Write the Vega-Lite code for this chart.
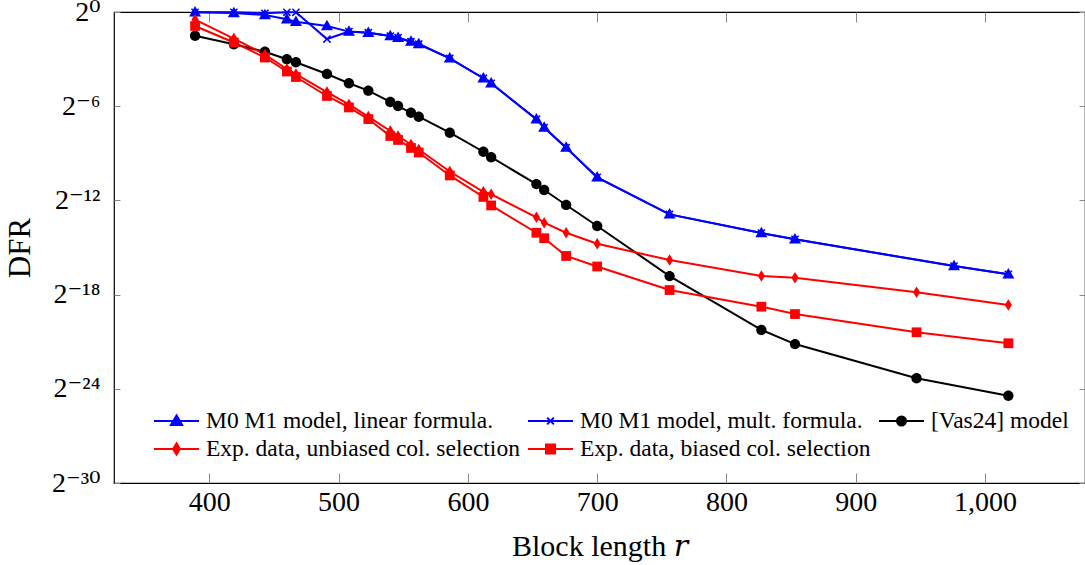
{
  "$schema": "https://vega.github.io/schema/vega-lite/v6.json",
  "autosize": "none",
  "width": 971,
  "height": 471,
  "padding": {"left": 114, "top": 12, "right": 0, "bottom": 82},
  "background": "white",
  "config": {
    "font": "Liberation Serif, DejaVu Serif",
    "view": {"stroke": "#000000", "strokeWidth": 1.2},
    "axis": {"grid": false, "domain": false, "tickColor": "#888888", "tickWidth": 1, "labelColor": "#000000", "titleColor": "#000000", "titleFontWeight": "normal", "labelFont": "Liberation Serif, DejaVu Serif", "titleFont": "Liberation Serif, DejaVu Serif"}
  },
  "data": {
    "values": [
      {"r": 389, "linear": -0.02, "mult": -0.02, "vas24": -1.51, "unbiased": -0.48, "biased": -0.89},
      {"r": 419, "linear": -0.06, "mult": -0.02, "vas24": -2.06, "unbiased": -1.69, "biased": -1.94},
      {"r": 443, "linear": -0.19, "mult": -0.08, "vas24": -2.53, "unbiased": -2.71, "biased": -2.9},
      {"r": 460, "linear": -0.46, "mult": -0.02, "vas24": -3.01, "unbiased": -3.63, "biased": -3.79},
      {"r": 467, "linear": -0.62, "mult": -0.02, "vas24": -3.2, "unbiased": -3.95, "biased": -4.14},
      {"r": 491, "linear": -0.89, "mult": -1.72, "vas24": -3.95, "unbiased": -5.1, "biased": -5.35},
      {"r": 508, "linear": -1.25, "mult": -1.25, "vas24": -4.54, "unbiased": -5.89, "biased": -6.08},
      {"r": 523, "linear": -1.32, "mult": -1.32, "vas24": -5.01, "unbiased": -6.66, "biased": -6.82},
      {"r": 540, "linear": -1.53, "mult": -1.53, "vas24": -5.73, "unbiased": -7.58, "biased": -7.9},
      {"r": 546, "linear": -1.64, "mult": -1.64, "vas24": -5.99, "unbiased": -7.9, "biased": -8.15},
      {"r": 556, "linear": -1.89, "mult": -1.89, "vas24": -6.42, "unbiased": -8.44, "biased": -8.66},
      {"r": 562, "linear": -2.04, "mult": -2.04, "vas24": -6.67, "unbiased": -8.76, "biased": -8.95},
      {"r": 586, "linear": -2.95, "mult": -2.95, "vas24": -7.69, "unbiased": -10.16, "biased": -10.41},
      {"r": 612, "linear": -4.22, "mult": -4.22, "vas24": -8.9, "unbiased": -11.45, "biased": -11.78},
      {"r": 618, "linear": -4.54, "mult": -4.54, "vas24": -9.25, "unbiased": -11.61, "biased": -12.32},
      {"r": 653, "linear": -6.83, "mult": -6.83, "vas24": -10.96, "unbiased": -13.08, "biased": -14.06},
      {"r": 659, "linear": -7.36, "mult": -7.36, "vas24": -11.34, "unbiased": -13.42, "biased": -14.41},
      {"r": 676, "linear": -8.64, "mult": -8.64, "vas24": -12.29, "unbiased": -14.06, "biased": -15.54},
      {"r": 700, "linear": -10.53, "mult": -10.53, "vas24": -13.63, "unbiased": -14.76, "biased": -16.21},
      {"r": 756, "linear": -12.89, "mult": -12.89, "vas24": -16.82, "unbiased": -15.8, "biased": -17.71},
      {"r": 827, "linear": -14.08, "mult": -14.08, "vas24": -20.25, "unbiased": -16.82, "biased": -18.77},
      {"r": 853, "linear": -14.48, "mult": -14.48, "vas24": -21.15, "unbiased": -16.92, "biased": -19.24},
      {"r": 947, "linear": null, "mult": null, "vas24": -23.33, "unbiased": -17.85, "biased": -20.4},
      {"r": 976, "linear": -16.18, "mult": -16.18, "vas24": null, "unbiased": null, "biased": null},
      {"r": 1018, "linear": -16.71, "mult": -16.71, "vas24": -24.44, "unbiased": -18.66, "biased": -21.1}
    ]
  },
  "transform": [
    {"fold": ["linear", "mult", "vas24", "unbiased", "biased"], "as": ["series", "log2_DFR"]},
    {"filter": "isValid(datum.log2_DFR)"}
  ],
  "layer": [
    {
      "encoding": {
        "x": {
          "field": "r", "type": "quantitative",
          "scale": {"domain": [326.3, 1077.3], "nice": false, "zero": false},
          "axis": {"orient": "bottom", "values": [400, 500, 600, 700, 800, 900, 1000], "format": ",d", "tickSize": -10, "labelPadding": 15, "labelFontSize": 28, "title": "Block length 𝑟", "titleFontSize": 30, "titlePadding": 15}
        },
        "y": {
          "field": "log2_DFR", "type": "quantitative",
          "scale": {"domain": [-30, 0], "nice": false, "zero": false},
          "axis": {"orient": "left", "values": [0, -6, -12, -18, -24, -30], "tickSize": -6, "labelPadding": 20, "labelFontSize": 28,
            "labelExpr": "datum.value === 0 ? '2⁰' : datum.value === -6 ? '2⁻⁶' : datum.value === -12 ? '2⁻¹²' : datum.value === -18 ? '2⁻¹⁸' : datum.value === -24 ? '2⁻²⁴' : '2⁻³⁰'",
            "title": "DFR", "titleFontSize": 31, "titlePadding": 15}
        }
      },
      "layer": [
        {"transform": [{"filter": "datum.series === 'linear'"}], "mark": {"type": "line", "strokeWidth": 2, "color": "#0000ff"}},
        {"transform": [{"filter": "datum.series === 'mult'"}], "mark": {"type": "line", "strokeWidth": 2, "color": "#0000ff"}},
        {"transform": [{"filter": "datum.series === 'vas24'"}], "mark": {"type": "line", "strokeWidth": 2, "color": "#000000"}},
        {"transform": [{"filter": "datum.series === 'unbiased'"}], "mark": {"type": "line", "strokeWidth": 2, "color": "#ff0000"}},
        {"transform": [{"filter": "datum.series === 'biased'"}], "mark": {"type": "line", "strokeWidth": 2, "color": "#ff0000"}}
      ]
    },
    {
      "encoding": {
        "x": {
          "field": "r", "type": "quantitative",
          "axis": {"orient": "top", "values": [400, 500, 600, 700, 800, 900, 1000], "tickSize": -10, "labels": false, "title": null}
        },
        "y": {
          "field": "log2_DFR", "type": "quantitative",
          "axis": {"orient": "right", "values": [0, -6, -12, -18, -24, -30], "tickSize": -6, "labels": false, "title": null}
        },
        "color": {
          "field": "series", "type": "nominal",
          "scale": {"domain": ["linear", "mult", "vas24", "unbiased", "biased"], "range": ["#0000ff", "#0000ff", "#000000", "#ff0000", "#ff0000"]},
          "legend": {
            "title": null,
            "orient": "none",
            "legendX": 39,
            "legendY": 395,
            "direction": "horizontal",
            "columns": 3,
            "padding": 0,
            "columnPadding": 7,
            "rowPadding": 0,
            "clipHeight": 28,
            "symbolSize": 2025,
            "symbolStrokeWidth": 2,
            "symbolOpacity": 1,
            "symbolType": {"expr": "datum.value === 'linear' ? 'M-1,0H1M0,-0.25L0.25,0.18L-0.25,0.18Z' : datum.value === 'mult' ? 'M-1,0H1M-0.15,-0.15L0.15,0.15M-0.15,0.15L0.15,-0.15' : datum.value === 'vas24' ? 'M-1,0H1M-0.2,0A0.2,0.2,0,1,0,0.2,0A0.2,0.2,0,1,0,-0.2,0Z' : datum.value === 'unbiased' ? 'M-1,0H1M0,-0.25L0.15,0L0,0.25L-0.15,0Z' : 'M-1,0H1M-0.2,-0.2H0.2V0.2H-0.2Z'"},
            "labelOffset": 6,
            "labelFont": "Liberation Serif",
            "labelFontSize": 23.5,
            "labelColor": "#000000",
            "labelLimit": 500,
            "labelExpr": "datum.value === 'linear' ? 'M0 M1 model, linear formula.' : datum.value === 'mult' ? 'M0 M1 model, mult. formula.' : datum.value === 'vas24' ? '[Vas24] model' : datum.value === 'unbiased' ? 'Exp. data, unbiased col. selection' : 'Exp. data, biased col. selection'"
          }
        }
      },
      "layer": [
        {
          "transform": [{"filter": "false"}],
          "mark": {"type": "line", "strokeWidth": 2}
        },
        {
          "transform": [{"filter": "datum.series === 'linear'"}],
          "mark": {"type": "point", "filled": true, "opacity": 1, "size": 144, "shape": "M0,-1.05L1,0.7L-1,0.7Z"}
        },
        {
          "transform": [{"filter": "datum.series === 'mult'"}],
          "mark": {"type": "point", "filled": true, "opacity": 1, "size": 121, "shape": "M-0.75,-0.55L-0.55,-0.75L0,-0.2L0.55,-0.75L0.75,-0.55L0.2,0L0.75,0.55L0.55,0.75L0,0.2L-0.55,0.75L-0.75,0.55L-0.2,0Z"}
        },
        {
          "transform": [{"filter": "datum.series === 'vas24'"}],
          "mark": {"type": "point", "filled": true, "opacity": 1, "size": 132, "shape": "M-0.9,0A0.9,0.9,0,1,0,0.9,0A0.9,0.9,0,1,0,-0.9,0Z"}
        },
        {
          "transform": [{"filter": "datum.series === 'unbiased'"}],
          "mark": {"type": "point", "filled": true, "opacity": 1, "size": 132, "shape": "M0,-1L0.62,0L0,1L-0.62,0Z"}
        },
        {
          "transform": [{"filter": "datum.series === 'biased'"}],
          "mark": {"type": "point", "filled": true, "opacity": 1, "size": 132, "shape": "M-0.85,-0.85H0.85V0.85H-0.85Z"}
        }
      ]
    }
  ],
  "resolve": {"axis": {"x": "independent", "y": "independent"}}
}
